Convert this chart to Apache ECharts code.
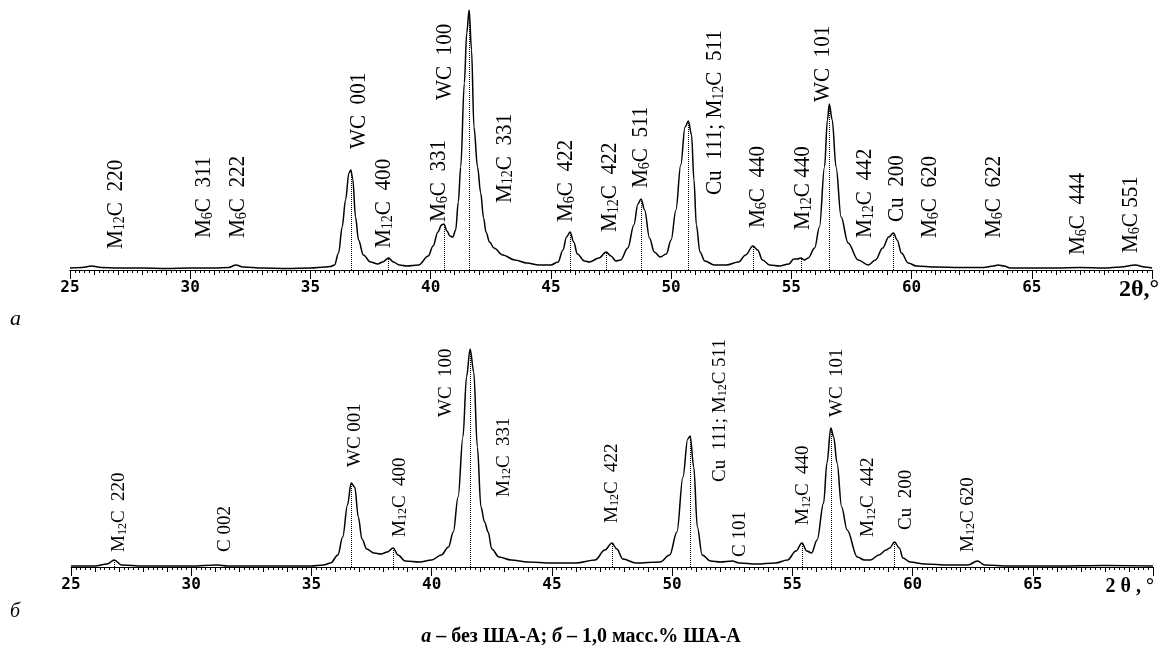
<!DOCTYPE html>
<html>
<head>
<meta charset="utf-8">
<script src="https://cdn.jsdelivr.net/npm/echarts@6/dist/echarts.min.js"></script>
<style>
html, body { margin: 0; padding: 0; background: #fff; }
#chart { width: 1162px; height: 651px; }
</style>
</head>
<body>
<div id="chart"></div>
<script>
// scan a: without additive, [2theta, intensity]
var scanA = [
  [25.0, 2], [25.5, 2.5], [25.9, 4], [26.3, 2.5], [27, 2], [28, 2], [29, 1.5], [30, 2], [31, 2],
  [31.6, 2.5], [31.9, 5], [32.2, 3], [33, 2], [34, 1.5], [35, 2], [35.6, 3], [35.83, 3.5],
  [36.0, 5], [36.17, 17], [36.32, 43], [36.46, 70], [36.6, 97], [36.68, 100], [36.76, 91],
  [36.875, 53], [37.0, 30], [37.2, 15], [37.5, 8], [37.8, 6], [38.0, 8], [38.25, 12],
  [38.45, 8], [38.7, 5], [39.0, 4], [39.5, 5], [39.9, 14], [40.1, 24], [40.3, 38],
  [40.45, 45], [40.55, 46], [40.68, 39], [40.8, 34], [40.92, 33], [41.04, 40], [41.15, 68],
  [41.25, 103], [41.4, 187], [41.5, 237], [41.6, 260], [41.7, 220], [41.8, 143], [41.95, 103],
  [42.08, 77], [42.2, 52], [42.3, 38], [42.45, 28], [42.63, 22], [43.0, 15], [43.5, 10],
  [44, 7], [44.5, 5], [45, 5], [45.3, 8], [45.5, 20], [45.65, 33], [45.8, 38], [45.95, 28],
  [46.1, 16], [46.4, 9], [46.6, 8], [47.0, 12], [47.3, 18], [47.5, 14], [47.7, 9], [47.9, 10],
  [48.2, 22], [48.45, 45], [48.62, 66], [48.75, 71], [48.9, 60], [49.1, 32], [49.3, 18],
  [49.55, 13], [49.8, 16], [50.0, 30], [50.2, 60], [50.4, 105], [50.58, 143], [50.72, 149],
  [50.85, 135], [50.95, 90], [51.05, 45], [51.2, 18], [51.4, 9], [51.8, 5], [52.3, 5],
  [52.8, 8], [53.1, 15], [53.4, 24], [53.6, 20], [53.8, 10], [54.1, 5], [54.5, 4], [54.9, 6],
  [55.1, 11], [55.25, 11], [55.4, 12], [55.55, 10], [55.7, 12], [55.97, 22], [56.17, 43],
  [56.38, 103], [56.5, 150], [56.58, 166], [56.7, 150], [56.86, 103], [57.07, 53],
  [57.36, 27], [57.78, 10], [58.2, 5], [58.5, 10], [58.8, 22], [59.05, 33], [59.25, 37],
  [59.4, 30], [59.58, 17], [59.86, 7], [60.2, 4], [61, 3], [62, 2.5], [63, 2.5], [63.4, 4],
  [63.6, 5], [63.85, 4], [64.1, 2], [65, 2], [66, 2], [67, 2.5], [68, 2], [68.7, 3],
  [69.3, 5], [69.7, 3], [70, 2]
];

// scan b: 1.0 wt.% additive
var scanB = [
  [25, 1], [26, 1], [26.5, 3], [26.8, 7], [27.1, 2], [28, 1], [30, 1], [31.1, 2], [31.5, 1],
  [33, 1], [35, 1], [35.5, 2], [35.8, 4], [36.1, 12], [36.3, 30], [36.5, 62], [36.65, 84],
  [36.8, 80], [36.95, 50], [37.1, 28], [37.3, 18], [37.6, 14], [37.9, 13], [38.15, 15],
  [38.4, 19], [38.6, 12], [38.9, 6], [39.5, 5], [40.0, 7], [40.4, 12], [40.7, 20],
  [40.9, 35], [41.1, 70], [41.3, 130], [41.45, 190], [41.6, 218], [41.75, 195], [41.9, 120],
  [42.05, 60], [42.2, 45], [42.35, 35], [42.5, 18], [42.8, 10], [43.3, 7], [44, 5], [45, 4],
  [46, 4], [46.8, 7], [47.2, 17], [47.5, 24], [47.7, 18], [47.95, 8], [48.5, 4], [49.5, 5],
  [49.9, 12], [50.2, 35], [50.45, 90], [50.65, 128], [50.75, 131], [50.9, 100], [51.05, 40],
  [51.25, 12], [51.6, 6], [52.0, 5], [52.5, 6], [52.8, 4], [53.5, 3], [54.3, 4], [54.8, 7],
  [55.15, 16], [55.4, 24], [55.6, 16], [55.8, 14], [56.03, 27], [56.3, 64], [56.44, 104],
  [56.6, 139], [56.72, 130], [56.86, 104], [57.05, 60], [57.28, 37], [57.7, 10], [58.0, 7],
  [58.25, 7], [58.6, 12], [58.9, 17], [59.05, 19], [59.25, 25], [59.45, 19], [59.6, 9],
  [59.9, 5], [60.5, 3], [61.5, 2], [62.3, 2], [62.7, 6], [63.0, 2], [64, 1], [66, 1],
  [68, 1.5], [70, 1]
];

// dotted marker lines: [2theta, peak height]
var peaksA = [[36.68, 100], [38.25, 12], [40.55, 46], [41.6, 260], [45.8, 38], [47.3, 18],
  [48.75, 71], [50.72, 149], [53.4, 24], [55.4, 12], [56.58, 166], [59.25, 37]];
var peaksB = [[26.8, 7], [36.65, 84], [38.4, 19], [41.6, 218], [47.5, 24], [50.75, 131],
  [55.4, 24], [56.6, 139], [59.25, 25]];

// phase labels: [2theta, bottom height, text]  (_12_ = subscript)
var labelsA = [
  [26.9, 21, 'M_12_C  220'], [30.55, 32, 'M_6_C  311'], [31.98, 32, 'M_6_C  222'],
  [37.0, 121, 'WC  001'], [38.04, 22, 'M_12_C  400'], [40.35, 48, 'M_6_C  331'],
  [40.58, 170, 'WC  100'], [43.06, 67, 'M_12_C  331'], [45.63, 48, 'M_6_C  422'],
  [47.44, 38, 'M_12_C  422'], [48.75, 82, 'M_6_C  511'], [51.81, 75, 'Cu  111; M_12_C  511'],
  [53.6, 42, 'M_6_C  440'], [55.46, 40, 'M_12_C 440'], [56.31, 168, 'WC  101'],
  [58.06, 32, 'M_12_C  442'], [59.37, 48, 'Cu  200'], [60.75, 32, 'M_6_C  620'],
  [63.4, 32, 'M_6_C  622'], [66.9, 15, 'M_6_C  444'], [69.1, 17, 'M_6_C 551']
];
var labelsB = [
  [27.0, 15, 'M_12_C  220'], [31.4, 15, 'C 002'], [36.8, 100, 'WC 001'],
  [38.67, 30, 'M_12_C  400'], [40.6, 150, 'WC  100'], [43.0, 70, 'M_12_C  331'],
  [47.48, 44, 'M_12_C  422'], [51.98, 85, 'Cu  111; M_12_C 511'], [52.83, 10, 'C 101'],
  [55.44, 42, 'M_12_C  440'], [56.85, 150, 'WC  101'], [58.15, 30, 'M_12_C  442'],
  [59.71, 37, 'Cu  200'], [62.29, 15, 'M_12_C 620']
];

var xTicks = [25, 30, 35, 40, 45, 50, 55, 60, 65];

var myChart = echarts.init(document.getElementById('chart'));

function make_axes(g) {
    return [{
        gridIndex: g, type: 'value', min: 25, max: 70, interval: 1,
        axisLine: { lineStyle: { color: '#000', width: 1 } },
        axisTick: { length: 5, lineStyle: { color: '#000' } },
        minorTick: { show: true, splitNumber: 5, length: 3, lineStyle: { color: '#000' } },
        axisLabel: { show: false },
        splitLine: { show: false }
    }, {
        gridIndex: g, type: 'value', min: 25, max: 70, interval: 5, position: 'bottom',
        axisLine: { show: false },
        axisTick: { length: 9, lineStyle: { color: '#000' } },
        axisLabel: {
            margin: 10, color: '#000', fontFamily: 'DejaVu Sans Mono', fontWeight: 'bold', fontSize: 16,
            formatter: function (v) { return xTicks.indexOf(v) >= 0 ? '' + v : ''; }
        },
        splitLine: { show: false }
    }];
}

function mark_lines(peaks) {
    var out = [];
    for (var i = 0; i < peaks.length; i++) {
        out.push([{ coord: [peaks[i][0], 0] }, { coord: [peaks[i][0], peaks[i][1]] }]);
    }
    return out;
}

var option = {
    animation: false,
    backgroundColor: '#fff',
    grid: [
        { left: 70, right: 10, top: 10, height: 260 },
        { left: 71, right: 9, top: 307, height: 260 }
    ],
    xAxis: make_axes(0).concat(make_axes(1)),
    yAxis: [
        { gridIndex: 0, type: 'value', min: 0, max: 260, show: false },
        { gridIndex: 1, type: 'value', min: 0, max: 260, show: false }
    ],
    series: [{
        type: 'line', xAxisIndex: 0, yAxisIndex: 0, data: scanA, showSymbol: false,
        smooth: 0.35, smoothMonotone: 'x',
        lineStyle: { color: '#000', width: 1.5 },
        markLine: {
            silent: true, symbol: 'none', label: { show: false },
            lineStyle: { color: '#000', type: 'dotted', width: 1 },
            data: mark_lines(peaksA)
        }
    }, {
        type: 'line', xAxisIndex: 2, yAxisIndex: 1, data: scanB, showSymbol: false,
        smooth: 0.35, smoothMonotone: 'x',
        lineStyle: { color: '#000', width: 1.5 },
        markLine: {
            silent: true, symbol: 'none', label: { show: false },
            lineStyle: { color: '#000', type: 'dotted', width: 1 },
            data: mark_lines(peaksB)
        }
    }]
};
myChart.setOption(option);

function to_rich(t) {
    var parts = t.split('_');
    var s = '';
    for (var i = 0; i < parts.length; i++) {
        if (parts[i] == '') continue;
        s += (i % 2 == 1 ? '{s|' : '{n|') + parts[i] + '}';
    }
    return s;
}

function phase_labels(labels, xi, yi, size, squeeze) {
    var out = [];
    for (var i = 0; i < labels.length; i++) {
        var p = myChart.convertToPixel({ xAxisIndex: xi, yAxisIndex: yi }, [labels[i][0], labels[i][1]]);
        out.push({
            type: 'text', x: p[0], y: p[1], rotation: Math.PI / 2, scaleX: squeeze, scaleY: 1,
            silent: true,
            style: {
                text: to_rich(labels[i][2]), align: 'left', verticalAlign: 'middle', fill: '#000',
                rich: {
                    n: { fontFamily: 'Liberation Serif', fontSize: size, lineHeight: size, verticalAlign: 'top', fill: '#000' },
                    s: { fontFamily: 'Liberation Serif', fontSize: Math.round(size * 0.65), lineHeight: Math.round(size * 0.4), verticalAlign: 'bottom', fill: '#000' }
                }
            }
        });
    }
    return out;
}

var graphics = phase_labels(labelsA, 0, 0, 24, 0.88).concat(phase_labels(labelsB, 2, 1, 19, 1));
graphics.push({
    type: 'text', x: 1159, y: 290, silent: true,
    style: { text: '2θ,°', align: 'right', verticalAlign: 'middle', font: 'bold 24px "Liberation Serif"', fill: '#000' }
});
graphics.push({
    type: 'text', x: 1154, y: 587, silent: true,
    style: { text: '2 θ , °', align: 'right', verticalAlign: 'middle', font: 'bold 20px "Liberation Serif"', fill: '#000' }
});
graphics.push({
    type: 'text', x: 10, y: 319, silent: true,
    style: { text: 'а', align: 'left', verticalAlign: 'middle', font: 'italic 22px "Liberation Serif"', fill: '#000' }
});
graphics.push({
    type: 'text', x: 10, y: 612, silent: true,
    style: { text: 'б', align: 'left', verticalAlign: 'middle', font: 'italic 20px "Liberation Serif"', fill: '#000' }
});
graphics.push({
    type: 'text', x: 581, y: 637, silent: true,
    style: {
        text: '{i|а}{r| – без ША-А; }{i|б}{r| – 1,0 масс.% ША-А}', align: 'center', verticalAlign: 'middle',
        rich: {
            i: { font: 'italic bold 20px "Liberation Serif"', fill: '#000' },
            r: { font: 'bold 20px "Liberation Serif"', fill: '#000' }
        }
    }
});
myChart.setOption({ graphic: graphics });
</script>
</body>
</html>
